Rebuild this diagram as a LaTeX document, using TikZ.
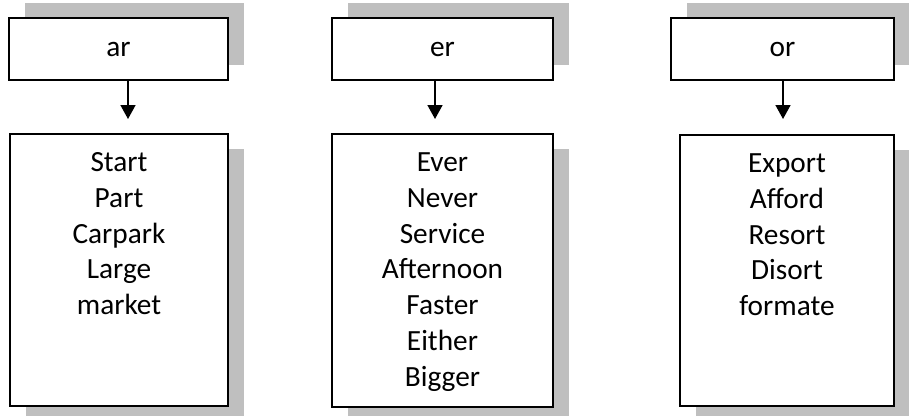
\documentclass[tikz,border=0pt]{standalone}
\usepackage{fontspec}
\setmainfont{Carlito}
\usetikzlibrary{arrows.meta,shadows}
\definecolor{shade}{RGB}{191,191,191}
\begin{document}
\begin{tikzpicture}[x=1pt,y=-1pt,
  box/.style={draw=black, line width=2pt, fill=white, rectangle, inner sep=0pt},
  topbox/.style={box, general shadow={fill=shade, shadow xshift=16pt, shadow yshift=15pt}},
  listbox/.style={box, general shadow={fill=shade, shadow xshift=16pt, shadow yshift=-15pt}},
  word/.style={font=\fontsize{29.3}{35.8}\selectfont},
  words/.style={word, anchor=base, text width=210pt, align=center, inner sep=0pt},
  link/.style={line width=1.6pt, -{Triangle[length=14pt,width=15pt]}}
]
\useasboundingbox (0,0) rectangle (909,415);
% column 1
\node[topbox, word, minimum width=219pt, minimum height=62pt] (t1) at (118.5,49) {ar};
\node[listbox, minimum width=218pt, minimum height=272pt] (b1) at (119,270) {};
\node[words] (w1) at ([yshift=-38.5pt]b1.north) {Start\\Part\\Carpark\\Large\\market};
\coordinate (e1) at (128,119);
\draw[link] (t1.south -| e1) -- (e1);
% column 2
\node[topbox, word, minimum width=221pt, minimum height=62pt] (t2) at (442.5,49) {er};
\node[listbox, minimum width=221pt, minimum height=273pt] (b2) at (442.5,270.5) {};
\node[words] (w2) at ([yshift=-38.5pt]b2.north) {Ever\\Never\\Service\\Afternoon\\Faster\\Either\\Bigger};
\coordinate (e2) at (435,119);
\draw[link] (t2.south -| e2) -- (e2);
% column 3
\node[topbox, word, minimum width=223pt, minimum height=62pt] (t3) at (782.5,49) {or};
\node[listbox, minimum width=214pt, minimum height=271pt] (b3) at (787,270.5) {};
\node[words] (w3) at ([yshift=-38.5pt]b3.north) {Export\\Afford\\Resort\\Disort\\formate};
\coordinate (e3) at (783,119);
\draw[link] (t3.south -| e3) -- (e3);
\end{tikzpicture}
\end{document}
